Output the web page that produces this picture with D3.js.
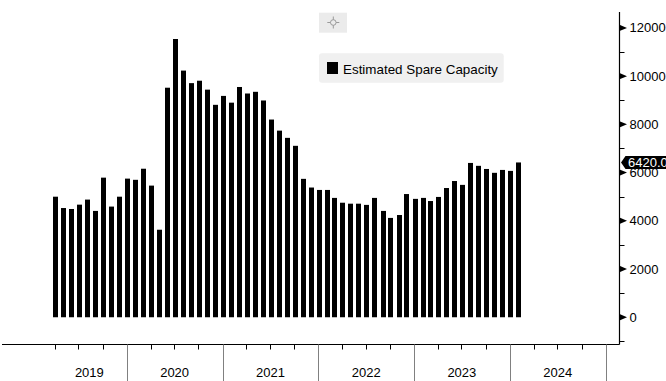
<!DOCTYPE html>
<html><head><meta charset="utf-8">
<script src="https://cdn.jsdelivr.net/npm/d3@7"></script>
<style>
body{margin:0;background:#fff}
svg{display:block}
text{font-family:"Liberation Sans",Arial,sans-serif}
</style>
</head><body>
<svg id="c" width="666" height="381"></svg>
<script>
const months=["2019-04","2019-05","2019-06","2019-07","2019-08","2019-09","2019-10","2019-11","2019-12",
"2020-01","2020-02","2020-03","2020-04","2020-05","2020-06","2020-07","2020-08","2020-09","2020-10","2020-11","2020-12",
"2021-01","2021-02","2021-03","2021-04","2021-05","2021-06","2021-07","2021-08","2021-09","2021-10","2021-11","2021-12",
"2022-01","2022-02","2022-03","2022-04","2022-05","2022-06","2022-07","2022-08","2022-09","2022-10","2022-11","2022-12",
"2023-01","2023-02","2023-03","2023-04","2023-05","2023-06","2023-07","2023-08","2023-09","2023-10","2023-11","2023-12",
"2024-01","2024-02"];
const spareCapacity=[5000,4530,4490,4670,4880,4410,5790,4590,5000,
5750,5700,6160,5460,3630,9520,11540,10230,9710,9810,9440,8810,
9180,8900,9550,9280,9350,8990,8200,7740,7440,7110,5740,5380,
5280,5280,4950,4750,4710,4710,4660,4950,4410,4120,4240,5110,
4910,4950,4820,4990,5360,5650,5490,6400,6280,6150,5990,6110,
6070,6420];
const majorTicks=[0,2000,4000,6000,8000,10000,12000];
const minorTicks=[-1000,1000,3000,5000,7000,9000,11000];
const yearLabels=["2019","2020","2021","2022","2023","2024"];
const seriesName="Estimated Spare Capacity";
const lastValueLabel="6420.0";

const svg=d3.select("#c");
const parse=d3.utcParse("%Y-%m");
const dates=months.map(parse);

const x=d3.scaleUtc().domain([new Date(Date.UTC(2019,0,1)),new Date(Date.UTC(2024,0,1))]).range([30.95,509.7]);
const y=d3.scaleLinear().domain([-1130,12660]).range([344.5,12]);

const axisX=619.5, axisBottom=344.5, axisLeft=2;

// bars
svg.append("g").selectAll("rect").data(spareCapacity).join("rect")
  .attr("x",(d,i)=>Math.round(x(dates[i])-1.5))
  .attr("width",5)
  .attr("y",d=>y(d))
  .attr("height",d=>y(0)-y(d))
  .attr("fill","#000");

// bottom axis line
svg.append("line").attr("x1",axisLeft).attr("x2",axisX).attr("y1",axisBottom).attr("y2",axisBottom)
  .attr("stroke","#000").attr("stroke-width",1.2);

// quarter ticks
const quarterDates=d3.utcMonth.range(new Date(Date.UTC(2019,3,1)),new Date(Date.UTC(2025,0,1)))
  .filter(d=>[3,6,9].includes(d.getUTCMonth()));
svg.append("g").selectAll("line").data(quarterDates).join("line")
  .attr("x1",d=>Math.round(x(d))+0.5).attr("x2",d=>Math.round(x(d))+0.5)
  .attr("y1",axisBottom).attr("y2",axisBottom+5)
  .attr("stroke","#000").attr("stroke-width",1);

// year separators
const yearStarts=d3.range(2020,2026).map(yr=>new Date(Date.UTC(yr,0,1)));
svg.append("g").selectAll("line").data(yearStarts).join("line")
  .attr("x1",d=>Math.round(x(d))+0.5).attr("x2",d=>Math.round(x(d))+0.5)
  .attr("y1",axisBottom).attr("y2",381)
  .attr("stroke","#808080").attr("stroke-width",1);

// year labels
svg.append("g").selectAll("text").data(yearLabels).join("text")
  .attr("x",(d,i)=>{
    const yr=+d;
    const a=Math.max(x(new Date(Date.UTC(yr,0,1))), x(dates[0])-2.5);
    const b=x(new Date(Date.UTC(yr+1,0,1)));
    return (a+b)/2;
  })
  .attr("y",376.5).attr("text-anchor","middle").attr("font-size",13).attr("fill","#000")
  .text(d=>d);

// right axis
svg.append("line").attr("x1",axisX).attr("x2",axisX).attr("y1",12).attr("y2",axisBottom)
  .attr("stroke","#000").attr("stroke-width",1.2);
svg.append("g").selectAll("line").data(minorTicks).join("line")
  .attr("x1",axisX).attr("x2",axisX+5).attr("y1",d=>Math.round(y(d))+0.5).attr("y2",d=>Math.round(y(d))+0.5)
  .attr("stroke","#000");
const mg=svg.append("g").selectAll("g").data(majorTicks).join("g")
  .attr("transform",d=>`translate(${axisX},${y(d)})`);
mg.append("path").attr("d","M0,-3.2L7.5,0L0,3.2Z").attr("fill","#000");
mg.append("text").attr("x",10).attr("dy","0.35em").attr("font-size",13).attr("fill","#000")
  .text(d=>d3.format("d")(d));

// last value tag
const lastY=y(spareCapacity[spareCapacity.length-1]);
const tag=svg.append("g").attr("transform",`translate(${axisX+1.5},${lastY})`);
tag.append("path").attr("d","M0,0L4.5,-6.5L50,-6.5L50,6.5L4.5,6.5Z").attr("fill","#000");
tag.append("text").attr("x",7).attr("dy","0.36em").attr("font-size",13).attr("fill","#fff").text(lastValueLabel);

// crosshair button
svg.append("rect").attr("x",319).attr("y",12.7).attr("width",28).attr("height",20).attr("fill","#ebebeb");
const ch=svg.append("g").attr("transform","translate(333.3,22.5)").attr("stroke","#9a9a9a").attr("fill","none").attr("stroke-width",1);
ch.append("line").attr("x1",-6).attr("x2",6).attr("y1",0).attr("y2",0);
ch.append("line").attr("x1",0).attr("x2",0).attr("y1",-6).attr("y2",6);
ch.append("circle").attr("r",2.8).attr("fill","#ebebeb");

// legend
svg.append("rect").attr("x",319).attr("y",53.3).attr("width",184.7).attr("height",29.4).attr("rx",3).attr("fill","#f0f0f0");
svg.append("rect").attr("x",327).attr("y",62).attr("width",11).attr("height",12).attr("fill","#000");
svg.append("text").attr("x",343).attr("y",74).attr("font-size",13.4).attr("fill","#000").text(seriesName);
</script>
</body></html>
